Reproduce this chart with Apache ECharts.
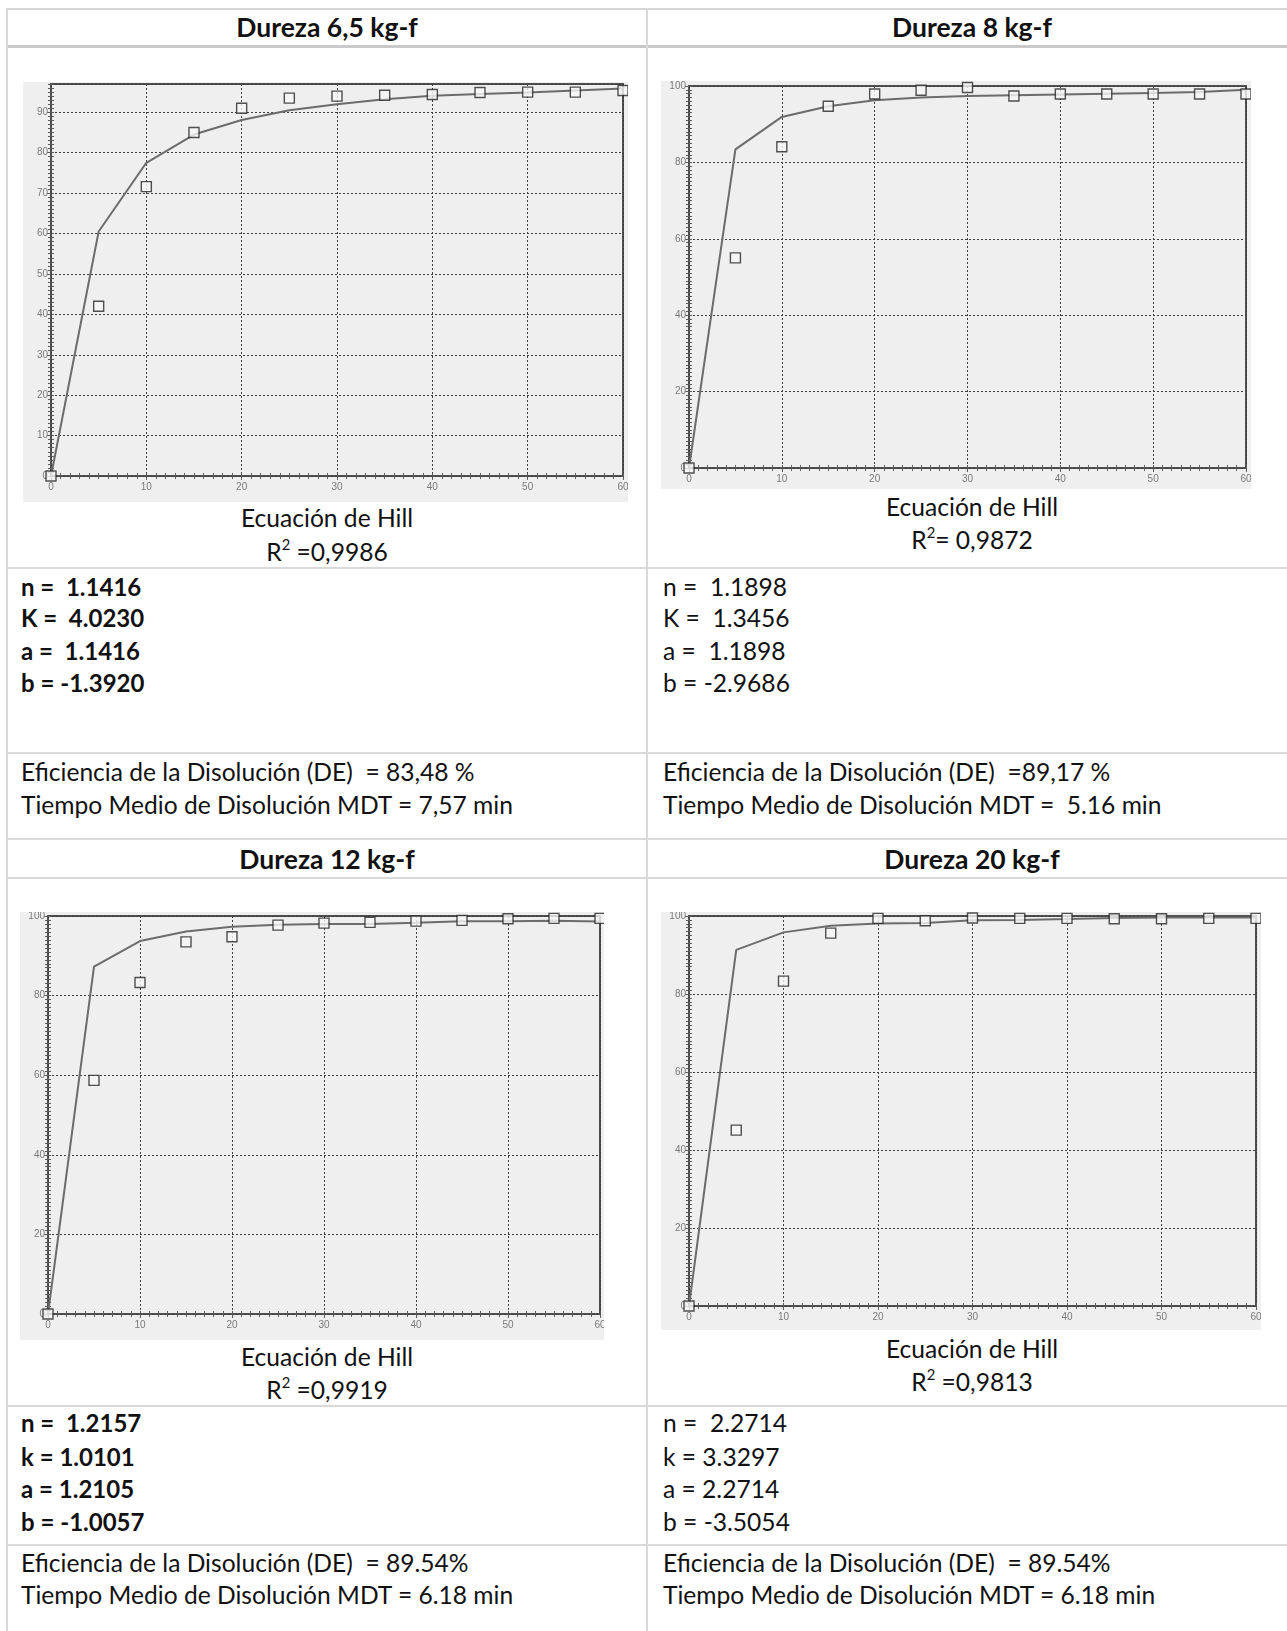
<!DOCTYPE html>
<html>
<head>
<meta charset="utf-8">
<title>Ecuación de Hill – perfiles de disolución</title>
<script src="https://cdn.jsdelivr.net/npm/echarts@6/dist/echarts.min.js"></script>
<style>
  html, body { margin: 0; padding: 0; background: #fff; }
  body { width: 1287px; height: 1631px; position: relative; overflow: hidden;
         font-family: Lato, "Noto Sans", sans-serif; color: #111; }
  .hl { position: absolute; left: 6px; right: 0; height: 2px; background: #d9d9d9; }
  .vl { position: absolute; top: 8px; bottom: 0; width: 2px; background: #d9d9d9; }
  .t  { position: absolute; white-space: pre; height: 32px; line-height: 32px; font-size: 24.6px; }
  .c  { width: 640px; text-align: center; }
  .b  { font-weight: bold; font-size: 24px; }
  .h  { font-size: 26.5px; font-weight: bold; }
  .chart { position: absolute; background: #efefef; }
  sup { font-size: 0.6em; line-height: 0; position: relative; top: -0.15em; }
</style>
</head>
<body>
<!-- table rules -->
<div class="hl" style="top:8px;background:#d6d6d6"></div>
<div class="hl" style="top:45px;height:3px;background:#c9c9c9"></div>
<div class="hl" style="top:567px"></div>
<div class="hl" style="top:752px"></div>
<div class="hl" style="top:838px"></div>
<div class="hl" style="top:877px"></div>
<div class="hl" style="top:1405px"></div>
<div class="hl" style="top:1544px"></div>
<div class="vl" style="left:6px"></div>
<div class="vl" style="left:646px"></div>

<!-- headers -->
<div class="t c h" style="left:7px;top:11px">Dureza 6,5 kg-f</div>
<div class="t c h" style="left:652px;top:11px">Dureza 8 kg-f</div>
<div class="t c h" style="left:7px;top:843px">Dureza 12 kg-f</div>
<div class="t c h" style="left:652px;top:843px">Dureza 20 kg-f</div>

<!-- charts -->
<div id="c65" class="chart" style="left:23px;top:82px;width:605px;height:420px"></div>
<div id="c8"  class="chart" style="left:661px;top:81px;width:590px;height:408px"></div>
<div id="c12" class="chart" style="left:20px;top:912px;width:584px;height:428px"></div>
<div id="c20" class="chart" style="left:661px;top:912px;width:600px;height:418px"></div>

<!-- captions -->
<div class="t c" style="left:7px;top:502px">Ecuación de Hill</div>
<div class="t c" style="left:7px;top:536px">R<sup>2</sup> =0,9986</div>
<div class="t c" style="left:652px;top:491px">Ecuación de Hill</div>
<div class="t c" style="left:652px;top:524px">R<sup>2</sup>= 0,9872</div>
<div class="t c" style="left:7px;top:1341px">Ecuación de Hill</div>
<div class="t c" style="left:7px;top:1374px">R<sup>2</sup> =0,9919</div>
<div class="t c" style="left:652px;top:1333px">Ecuación de Hill</div>
<div class="t c" style="left:652px;top:1366px">R<sup>2</sup> =0,9813</div>

<!-- fitted parameters -->
<div class="t b" style="left:21px;top:571px">n =  1.1416</div>
<div class="t b" style="left:21px;top:602px">K =  4.0230</div>
<div class="t b" style="left:21px;top:635px">a =  1.1416</div>
<div class="t b" style="left:21px;top:667px">b = -1.3920</div>
<div class="t" style="left:663px;top:571px">n =  1.1898</div>
<div class="t" style="left:663px;top:602px">K =  1.3456</div>
<div class="t" style="left:663px;top:635px">a =  1.1898</div>
<div class="t" style="left:663px;top:667px">b = -2.9686</div>

<div class="t" style="left:21px;top:756px">Eficiencia de la Disolución (DE)  = 83,48 %</div>
<div class="t" style="left:21px;top:789px">Tiempo Medio de Disolución MDT = 7,57 min</div>
<div class="t" style="left:663px;top:756px">Eficiencia de la Disolución (DE)  =89,17 %</div>
<div class="t" style="left:663px;top:789px">Tiempo Medio de Disolución MDT =  5.16 min</div>

<div class="t b" style="left:21px;top:1407px">n =  1.2157</div>
<div class="t b" style="left:21px;top:1441px">k = 1.0101</div>
<div class="t b" style="left:21px;top:1473px">a = 1.2105</div>
<div class="t b" style="left:21px;top:1506px">b = -1.0057</div>
<div class="t" style="left:663px;top:1407px">n =  2.2714</div>
<div class="t" style="left:663px;top:1441px">k = 3.3297</div>
<div class="t" style="left:663px;top:1473px">a = 2.2714</div>
<div class="t" style="left:663px;top:1506px">b = -3.5054</div>

<div class="t" style="left:21px;top:1547px">Eficiencia de la Disolución (DE)  = 89.54%</div>
<div class="t" style="left:21px;top:1579px">Tiempo Medio de Disolución MDT = 6.18 min</div>
<div class="t" style="left:663px;top:1547px">Eficiencia de la Disolución (DE)  = 89.54%</div>
<div class="t" style="left:663px;top:1579px">Tiempo Medio de Disolución MDT = 6.18 min</div>

<script>
// Sampling times (min)
const timeMin = [0, 5, 10, 15, 20, 25, 30, 35, 40, 45, 50, 55, 60];

// % dissolved: experimental points and Hill-model fit, per tablet hardness
const obs65 = [0, 42.0, 71.6, 85.0, 91.0, 93.5, 94.0, 94.2, 94.4, 94.9, 95.0, 95.0, 95.4];
const fit65 = [0, 60.5, 77.5, 84.5, 88.1, 90.5, 92.0, 93.2, 94.1, 94.5, 94.9, 95.4, 95.9];

const obs8 = [0, 55.0, 84.1, 94.7, 97.9, 98.9, 99.6, 97.4, 97.9, 97.9, 97.9, 97.9, 97.9];
const fit8 = [0, 83.4, 91.9, 94.7, 96.3, 97.0, 97.4, 97.6, 97.8, 98.0, 98.2, 98.4, 99.0];

const obs12 = [0, 58.7, 83.3, 93.5, 94.8, 97.7, 98.2, 98.4, 98.7, 98.9, 99.3, 99.4, 99.4];
const fit12 = [0, 87.3, 93.7, 96.1, 97.3, 97.8, 98.0, 98.0, 98.3, 98.7, 98.7, 98.8, 98.6];

const obs20 = [0, 45.1, 83.3, 95.6, 99.4, 98.8, 99.5, 99.4, 99.4, 99.3, 99.3, 99.4, 99.4];
const fit20 = [0, 91.3, 95.8, 97.5, 98.1, 98.2, 98.9, 99.0, 99.2, 99.5, 99.6, 99.6, 99.6];

function pairs(xs, ys) { return xs.map((x, i) => [x, ys[i]]); }

// Short inward ticks along the plot frame, one per axis unit
function rulerAxis(gridIndex, position, min, max, interval, minorSplit) {
  return {
    type: 'value', gridIndex, position, min, max, interval,
    axisLine: { show: false },
    axisLabel: { show: false },
    splitLine: { show: false },
    axisTick: { show: true, inside: true, length: 3, lineStyle: { color: '#5a5a5a', width: 1 } },
    minorTick: { show: true, splitNumber: minorSplit, length: 3, lineStyle: { color: '#5a5a5a', width: 1 } }
  };
}

function drawChart(id, obs, fit, yMax, yStep, box) {
  const chart = echarts.init(document.getElementById(id), null, { renderer: 'canvas' });
  const g = Object.assign({ outerBoundsMode: 'none', containLabel: false }, box);
  const labelStyle = { color: '#7a7a7a', fontSize: 10, fontFamily: 'Liberation Sans' };
  const gridLine = { show: true, lineStyle: { color: '#3f3f3f', width: 1, type: [2, 2] } };
  chart.setOption({
    animation: false,
    backgroundColor: '#efefef',
    grid: [
      Object.assign({ show: true, borderColor: '#4f4f4f', borderWidth: 2, backgroundColor: 'transparent' }, g),
      Object.assign({ show: false }, g)
    ],
    xAxis: [
      { type: 'value', gridIndex: 0, position: 'bottom', min: 0, max: 60, interval: 10,
        axisLine: { show: false },
        axisTick: { show: true, length: 4, lineStyle: { color: '#666' } },
        axisLabel: Object.assign({ margin: 6 }, labelStyle),
        splitLine: gridLine },
      rulerAxis(1, 'bottom', 0, 60, 10, 10),
      rulerAxis(1, 'top', 0, 60, 10, 10)
    ],
    yAxis: [
      { type: 'value', gridIndex: 0, position: 'left', min: 0, max: yMax, interval: yStep,
        axisLine: { show: false },
        axisTick: { show: true, length: 4, lineStyle: { color: '#666' } },
        axisLabel: Object.assign({ margin: 3, showMaxLabel: yMax % yStep === 0,
          formatter: v => (v % yStep === 0 ? String(v) : '') }, labelStyle),
        splitLine: gridLine },
      rulerAxis(1, 'left', 0, yMax, yStep, yStep),
      rulerAxis(1, 'right', 0, yMax, yStep, yStep)
    ],
    series: [
      { name: 'Ecuación de Hill', type: 'line', xAxisIndex: 0, yAxisIndex: 0,
        data: pairs(timeMin, fit), showSymbol: false, symbol: 'none', clip: false,
        lineStyle: { color: '#6c6c6c', width: 2 }, z: 3 },
      { name: 'Experimental', type: 'scatter', xAxisIndex: 0, yAxisIndex: 0,
        data: pairs(timeMin, obs), symbol: 'rect', symbolSize: 10, clip: false,
        itemStyle: { color: '#f6f6f6', borderColor: '#262626', borderWidth: 1.4 }, z: 4 }
    ]
  });
}

drawChart('c65', obs65, fit65, 97, 10, { left: 28, top: 2, width: 572, height: 392 });
drawChart('c8',  obs8,  fit8,  100, 20, { left: 28, top: 5, width: 557, height: 382 });
drawChart('c12', obs12, fit12, 100, 20, { left: 28, top: 4, width: 552, height: 398 });
drawChart('c20', obs20, fit20, 100, 20, { left: 28, top: 4, width: 567, height: 390 });
</script>
</body>
</html>
